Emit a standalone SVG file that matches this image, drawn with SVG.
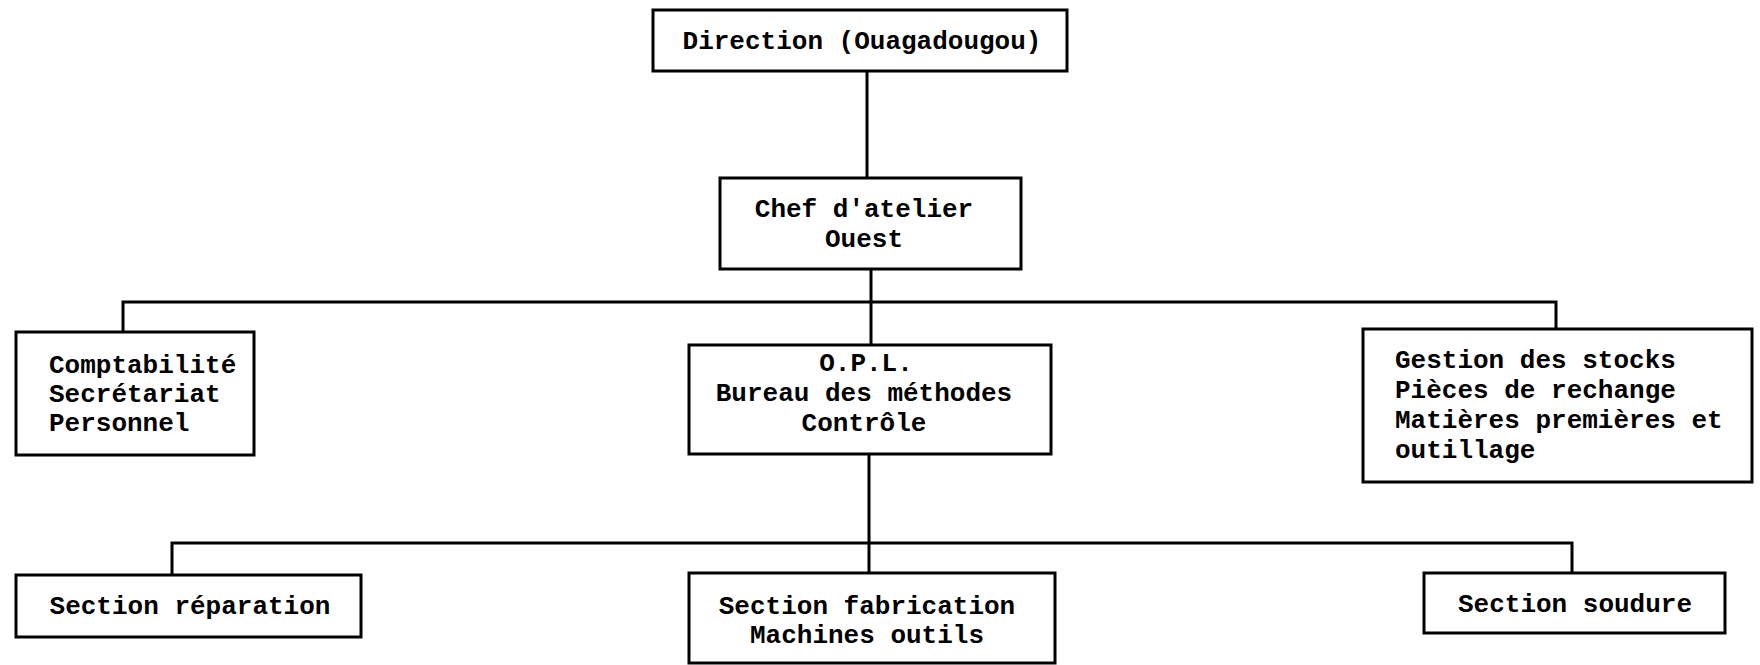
<svg xmlns="http://www.w3.org/2000/svg" width="1760" height="665" viewBox="0 0 1760 665">
<style>
.box{fill:#fff;stroke:#000;stroke-width:3}
.ln{fill:none;stroke:#000;stroke-width:3}
text{font-family:"Liberation Mono","Courier New",monospace;font-weight:bold;font-size:26px;fill:#000}
.c{text-anchor:middle}
</style>
<rect width="1760" height="665" fill="#fff"/>
<g id="connectors">
<path class="ln" d="M867 71 V177"/>
<path class="ln" d="M871 269 V345"/>
<path class="ln" d="M123 332 V302 H1556 V330"/>
<path class="ln" d="M869 454 V573"/>
<path class="ln" d="M172 575 V543 H1572 V573"/>
</g>
<g id="direction">
<rect class="box" x="653" y="10" width="414" height="61"/>
<text class="c" x="862" y="49">Direction (Ouagadougou)</text>
</g>
<g id="chef">
<rect class="box" x="720" y="178" width="301" height="91"/>
<text class="c" x="864" y="217">Chef d'atelier</text>
<text class="c" x="864" y="247">Ouest</text>
</g>
<g id="comptabilite">
<rect class="box" x="16" y="332" width="238" height="123"/>
<text x="49" y="373">Comptabilité</text>
<text x="49" y="402">Secrétariat</text>
<text x="49" y="431">Personnel</text>
</g>
<g id="opl">
<rect class="box" x="689" y="345" width="362" height="109"/>
<text class="c" x="866" y="371">O.P.L.</text>
<text class="c" x="864" y="401">Bureau des méthodes</text>
<text class="c" x="864" y="431">Contrôle</text>
</g>
<g id="gestion">
<rect class="box" x="1363" y="329" width="389" height="153"/>
<text x="1395" y="368">Gestion des stocks</text>
<text x="1395" y="398">Pièces de rechange</text>
<text x="1395" y="428">Matières premières et</text>
<text x="1395" y="458">outillage</text>
</g>
<g id="reparation">
<rect class="box" x="16" y="575" width="345" height="62"/>
<text class="c" x="190" y="614">Section réparation</text>
</g>
<g id="fabrication">
<rect class="box" x="689" y="573" width="366" height="90"/>
<text class="c" x="867" y="614">Section fabrication</text>
<text class="c" x="867" y="643">Machines outils</text>
</g>
<g id="soudure">
<rect class="box" x="1424" y="573" width="301" height="60"/>
<text class="c" x="1575" y="612">Section soudure</text>
</g>
</svg>
